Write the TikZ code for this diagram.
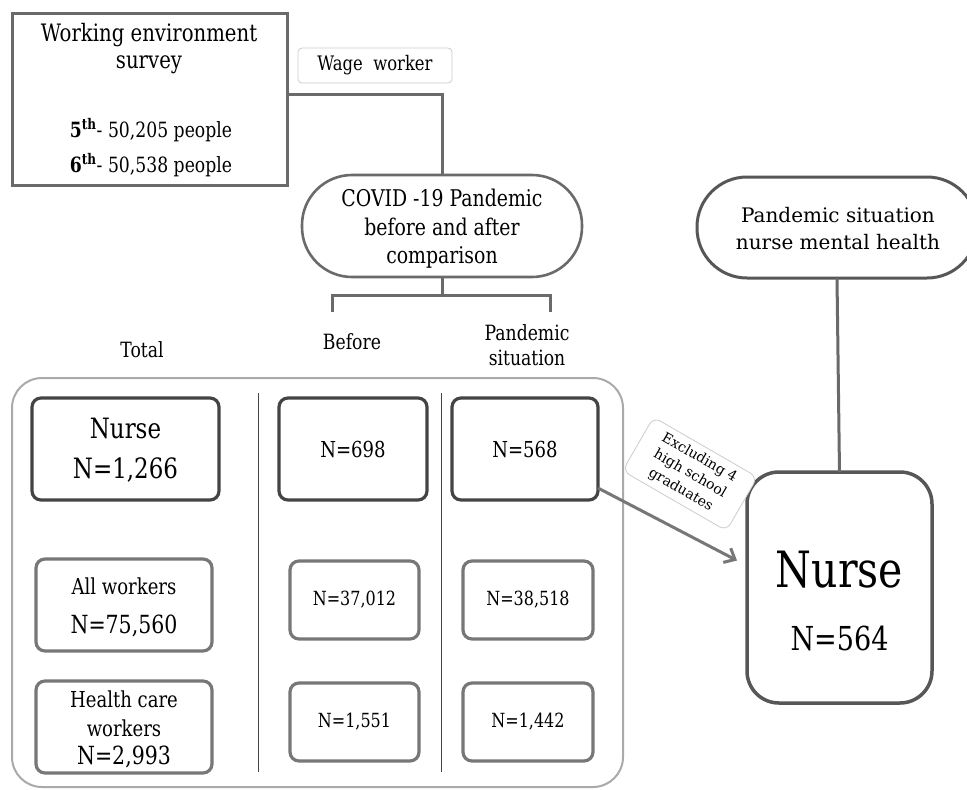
\documentclass[tikz,border=0pt]{standalone}
\usepackage{fontspec}
\setmainfont{DejaVu Serif}[FakeStretch=0.82]
\newfontfamily\widefont{DejaVu Serif}
\usetikzlibrary{arrows.meta,calc}
\definecolor{dk}{HTML}{444444}
\definecolor{md}{HTML}{777777}
\definecolor{ln}{HTML}{6A6A6A}
\definecolor{lt}{HTML}{AAAAAA}
\definecolor{vl}{HTML}{CCCCCC}
\newcommand{\fs}[1]{\fontsize{#1}{#1}\selectfont}
\begin{document}
\begin{tikzpicture}[x=1pt,y=-1pt,
  every node/.style={inner sep=0pt, outer sep=0pt, align=center},
  darkbox/.style={draw=dk, line width=3.2pt, rounded corners=9pt},
  midbox/.style={draw=md, line width=3.2pt, rounded corners=9pt},
  conn/.style={draw=ln, line width=3pt},
  pill/.style={draw=ln, line width=2.6pt, rounded corners=50pt, fill=white},
  txt/.style={text=black}]
\clip (0,0) rectangle (967,790);
\fill[white] (0,0) rectangle (967,790);

% survey
\node[draw=ln, line width=3pt, minimum width=275pt, minimum height=172pt] (survey) at (149.5,99) {};
\node[txt, font=\fs{24}] (s1) at (149,35) {Working environment};
\node[txt, font=\fs{24}] (s2) at (149,65) {survey};
\node[txt, font=\fs{21}] (s3) at (151,130) {\textbf{5\textsuperscript{th}}- 50,205 people};
\node[txt, font=\fs{21}] (s4) at (151,165) {\textbf{6\textsuperscript{th}}- 50,538 people};

% wage worker
\node[draw=vl, line width=0.8pt, rounded corners=4pt, minimum width=154pt, minimum height=35pt, font=\fs{20}] (wage) at (375,65.5) {Wage\ \ worker};

% covid pill
\node[pill, minimum width=280pt, minimum height=102pt] (covid) at (442,226) {};
\node[txt, font=\fs{23}] (c1) at (442,198) {COVID -19 Pandemic};
\node[txt, font=\fs{23}] (c2) at (442,227) {before and after};
\node[txt, font=\fs{23}] (c3) at (442,257) {comparison};

\coordinate (bend) at (442,94);
\draw[conn] (survey.east |- bend) -- (bend) -- (covid.north);
\coordinate (split) at (442,295);
\coordinate (bl) at (332,295);
\coordinate (br) at (550,295);
\coordinate (blend) at (332,312);
\coordinate (brend) at (550,312);
\draw[conn] (covid.south) -- (split);
\draw[conn] (blend) -- (bl) -- (br) -- (brend);

% headers
\node[txt, font=\fs{21}] (hTotal) at (142,350) {Total};
\node[txt, font=\fs{21}] (hBefore) at (352,342) {Before};
\node[txt, font=\fs{21}] (hPan1) at (527,333) {Pandemic};
\node[txt, font=\fs{21}] (hPan2) at (527,358) {situation};

% container
\node[draw=lt, line width=2pt, rounded corners=30pt, minimum width=611pt, minimum height=409pt] (cont) at (317.5,582.5) {};
\coordinate (d1t) at (258,393); \coordinate (d1b) at (258,772);
\coordinate (d2t) at (441,393); \coordinate (d2b) at (441,772);
\draw[dk, line width=1pt] (d1t) -- (d1b);
\draw[dk, line width=1pt] (d2t) -- (d2b);

% row 1
\node[darkbox, minimum width=187pt, minimum height=102pt] (nurseL) at (125.5,449) {};
\node[txt, font=\fs{28}] (nl1) at (125.5,428) {Nurse};
\node[txt, font=\fs{28}] (nl2) at (125.5,470) {N=1,266};
\node[darkbox, minimum width=148pt, minimum height=102pt, font=\fs{22}] (n698) at (353,449) {N=698};
\node[darkbox, minimum width=146pt, minimum height=102pt, font=\fs{22}] (n568) at (525,449) {N=568};

% row 2
\node[midbox, minimum width=176pt, minimum height=92pt] (allw) at (124,605) {};
\node[txt, font=\fs{22}] (a1) at (124,586) {All workers};
\node[txt, font=\fs{25}] (a2) at (124,626) {N=75,560};
\node[midbox, minimum width=129pt, minimum height=78pt, font=\fs{19.5}] (n37) at (354.5,600) {N=37,012};
\node[midbox, minimum width=130pt, minimum height=78pt, font=\fs{19.5}] (n38) at (528,600) {N=38,518};

% row 3
\node[midbox, minimum width=176pt, minimum height=92pt] (hcw) at (124,727) {};
\node[txt, font=\fs{22}] (h1) at (124,699) {Health care};
\node[txt, font=\fs{22}] (h2) at (124,728) {workers};
\node[txt, font=\fs{25}] (h3) at (124,757) {N=2,993};
\node[midbox, minimum width=129pt, minimum height=78pt, font=\fs{19.5}] (n1551) at (354.5,722) {N=1,551};
\node[midbox, minimum width=130pt, minimum height=78pt, font=\fs{19.5}] (n1442) at (528,722) {N=1,442};

% right side
\node[draw=dk!90, line width=3pt, rounded corners=50pt, minimum width=280pt, minimum height=101pt] (mh) at (837,227.5) {};
\node[txt, font=\widefont\fs{20}] (m1) at (838,215) {Pandemic situation};
\node[txt, font=\widefont\fs{20}] (m2) at (838,242) {nurse mental health};
\node[draw=dk!90, line width=3.5pt, rounded corners=32pt, minimum width=185pt, minimum height=231pt] (nurseR) at (839.5,587.5) {};
\node[txt, font=\fs{50}] (r1) at (839.5,570) {Nurse};
\node[txt, font=\fs{33}] (r2) at (839.5,638) {N=564};
\draw[conn, line width=3pt] (mh.south) -- (nurseR.north);

% arrow + label
\coordinate (arrEnd) at ([xshift=-10pt,yshift=27pt]nurseR.west);
\draw[draw=md, line width=3pt, -{Straight Barb[length=9pt,width=16pt,line width=3pt]}] ([yshift=12pt]n568.south east) -- (arrEnd);
\node[draw=vl, line width=0.8pt, rounded corners=8pt, fill=white, rotate=-30, minimum width=120pt, minimum height=62pt, font=\widefont\fontsize{14}{18.5}\selectfont] (excl) at (690,474) {Excluding 4\\high school\\graduates};
\end{tikzpicture}
\end{document}
